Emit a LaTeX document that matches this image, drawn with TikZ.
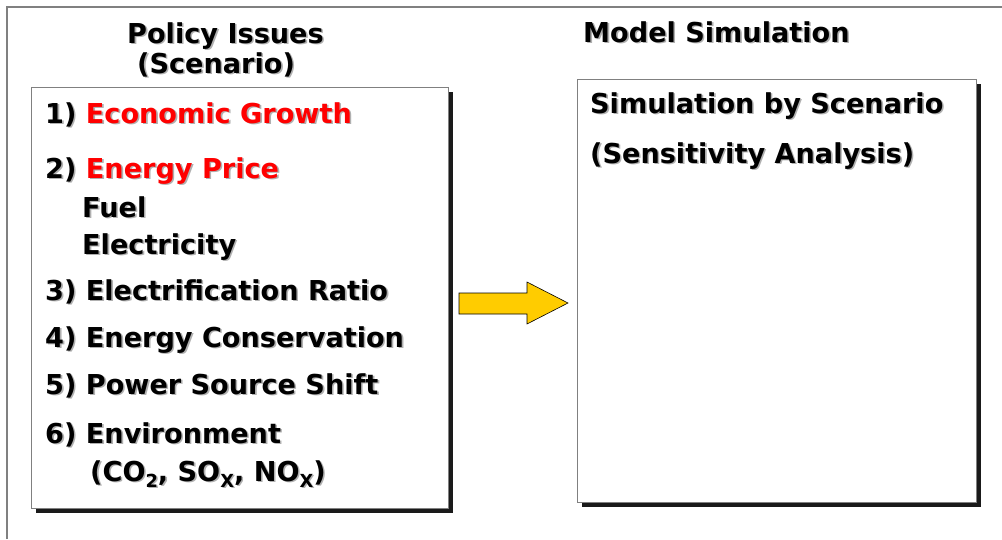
\documentclass[tikz,border=0pt]{standalone}
\usepackage{fontspec}
\usetikzlibrary{shadows}
\newfontfamily\tah{DejaVu Sans}[FakeStretch=0.99]
\definecolor{framegray}{HTML}{808080}
\definecolor{shadowgray}{HTML}{B0B0B0}
\definecolor{boxshadow}{HTML}{1A1A1A}
\definecolor{arrowfill}{HTML}{FFCC00}
\definecolor{redtxt}{HTML}{FF0000}
\newcommand\hlc{redtxt}
\newcommand\shtx[1]{\rlap{\renewcommand\hlc{shadowgray}\textcolor{shadowgray}{\kern1.6pt\raisebox{-1.6pt}{#1}}}#1}
\newcommand\subs[1]{\raisebox{-0.22em}{\fontsize{18}{18}\selectfont #1}}
\tikzset{
  txt/.style={anchor=base west, inner sep=0pt, font=\tah\bfseries\fontsize{27.4}{30}\selectfont},
  panel/.style={draw=framegray, line width=1pt, fill=white, inner sep=0pt,
    drop shadow={shadow xshift=5pt, shadow yshift=-5pt, fill=boxshadow, opacity=1}},
  blockarrow/.style={draw=black, line width=0.6pt, fill=arrowfill}
}
\begin{document}
\begin{tikzpicture}[x=1pt,y=-1pt]
\useasboundingbox (0,0) rectangle (1002,539);
\fill[white] (0,0) rectangle (1002,539);
\draw[framegray, line width=2pt] (7,539) -- (7,7) -- (1002,7);
% panels
\node[panel, minimum width=417pt, minimum height=421pt] (leftbox) at (239.5,297.5) {};
\node[panel, minimum width=399pt, minimum height=423pt] (rightbox) at (776.5,290.5) {};
% headings
\node[txt] (h1) at (127,43) {\shtx{Policy Issues}};
\node[txt] (h2) at (137,73) {\shtx{(Scenario)}};
\node[txt] (h3) at (583,42) {\shtx{Model Simulation}};
% left items
\node[txt] (i1) at (45,123) {\shtx{1) \textcolor{\hlc}{Economic Growth}}};
\node[txt] (i2) at (45,178) {\shtx{2) \textcolor{\hlc}{Energy Price}}};
\node[txt] (i2a) at (82,217) {\shtx{Fuel}};
\node[txt] (i2b) at (82,254) {\shtx{Electricity}};
\node[txt] (i3) at (45,300) {\shtx{3) Electrification Ratio}};
\node[txt] (i4) at (45,347) {\shtx{4) Energy Conservation}};
\node[txt] (i5) at (45,394) {\shtx{5) Power Source Shift}};
\node[txt] (i6) at (45,443) {\shtx{6) Environment}};
\node[txt] (i6a) at (90,481) {\shtx{(CO\subs{2}, SO\subs{X}, NO\subs{X})}};
% right items
\node[txt] (r1) at (590,113) {\shtx{Simulation by Scenario}};
\node[txt] (r2) at (590,163) {\shtx{(Sensitivity Analysis)}};
% block arrow
\draw[blockarrow] (459,293) -- (527,293) -- (527,282) -- (568,303) -- (527,324) -- (527,314) -- (459,314) -- cycle;
\end{tikzpicture}
\end{document}
